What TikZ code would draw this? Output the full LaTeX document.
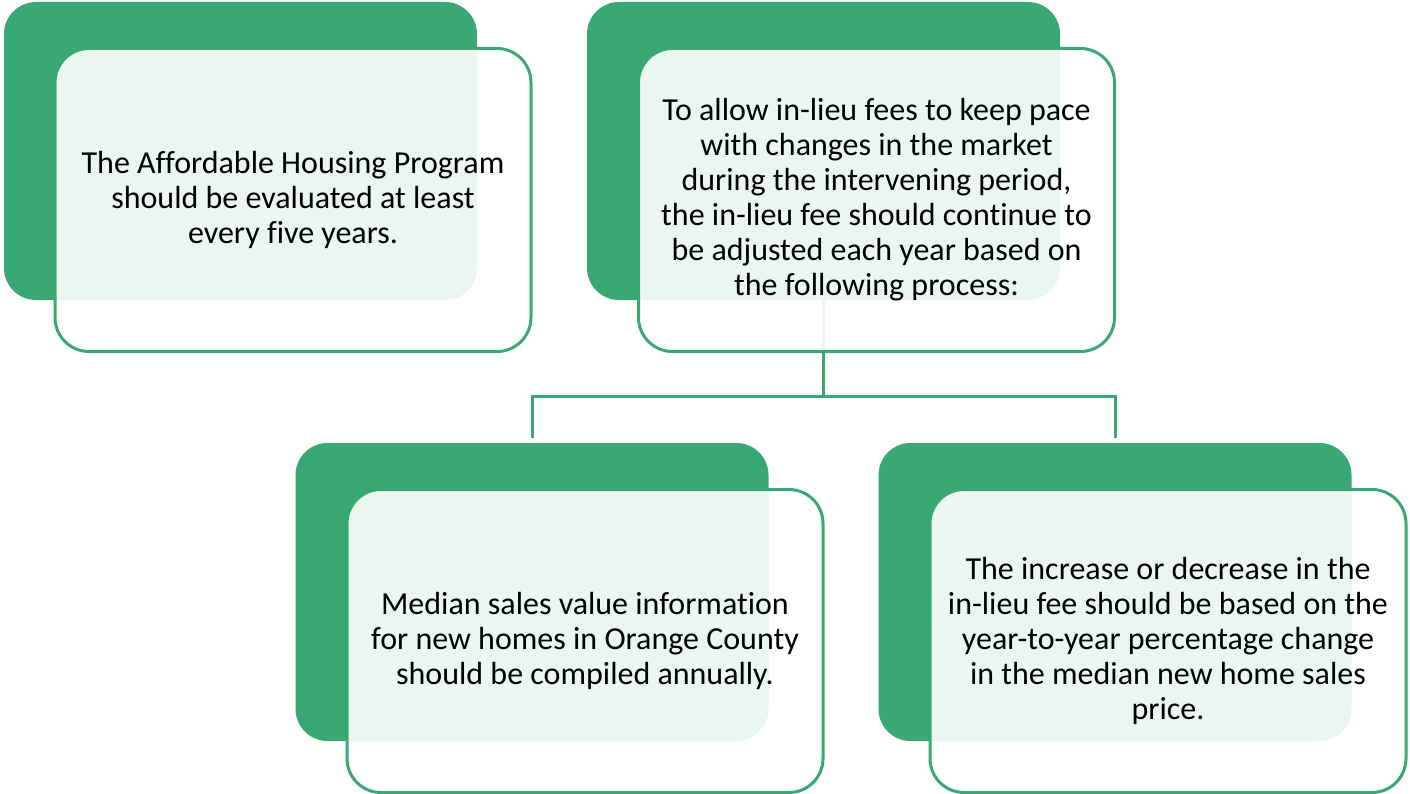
\documentclass[tikz,border=0pt]{standalone}
\usepackage{fontspec}
\setmainfont{Carlito}[Ligatures=NoCommon]
\usetikzlibrary{calc}
\definecolor{grn}{RGB}{58,168,115}
\begin{document}
\begin{tikzpicture}[x=1pt,y=-1pt,
  backbox/.style={fill=grn, draw=none, rounded corners=32pt, minimum width=473pt, minimum height=298pt, inner sep=0pt},
  frontbox/.style={draw=grn, line width=3pt, fill=white, fill opacity=0.9, text opacity=1, rounded corners=34pt, minimum width=476pt, minimum height=303pt, inner sep=0pt, align=center, font=\fontsize{32}{35}\selectfont},
  conn/.style={draw=grn, line width=3pt}]
\useasboundingbox (0,0) rectangle (1410,794);
% top row
\node[backbox] (b1) at (240.5,151) {};
\node[backbox] (b2) at (823.5,151) {};
\coordinate (jn) at (823.5,396);
\draw[conn] (b2.south) -- (jn);
\node[frontbox] (f1) at (293,200) {The Affordable Housing Program\\should be evaluated at least\\every five years.};
\node[frontbox] (f2) at (876.5,200) {To allow in-lieu fees to keep pace\\with changes in the market\\during the intervening period,\\the in-lieu fee should continue to\\be adjusted each year based on\\the following process:};
% bottom row
\node[backbox] (b3) at (532,592) {};
\node[backbox] (b4) at (1115,592) {};
\draw[conn] ($(b3.north)+(0,-5)$) |- (jn) -| ($(b4.north)+(0,-5)$);
\node[frontbox] (f3) at (585,641) {Median sales value information\\for new homes in Orange County\\should be compiled annually.};
\node[frontbox] (f4) at (1168,641) {The increase or decrease in the\\in-lieu fee should be based on the\\year-to-year percentage change\\in the median new home sales\\price.};
\end{tikzpicture}
\end{document}
